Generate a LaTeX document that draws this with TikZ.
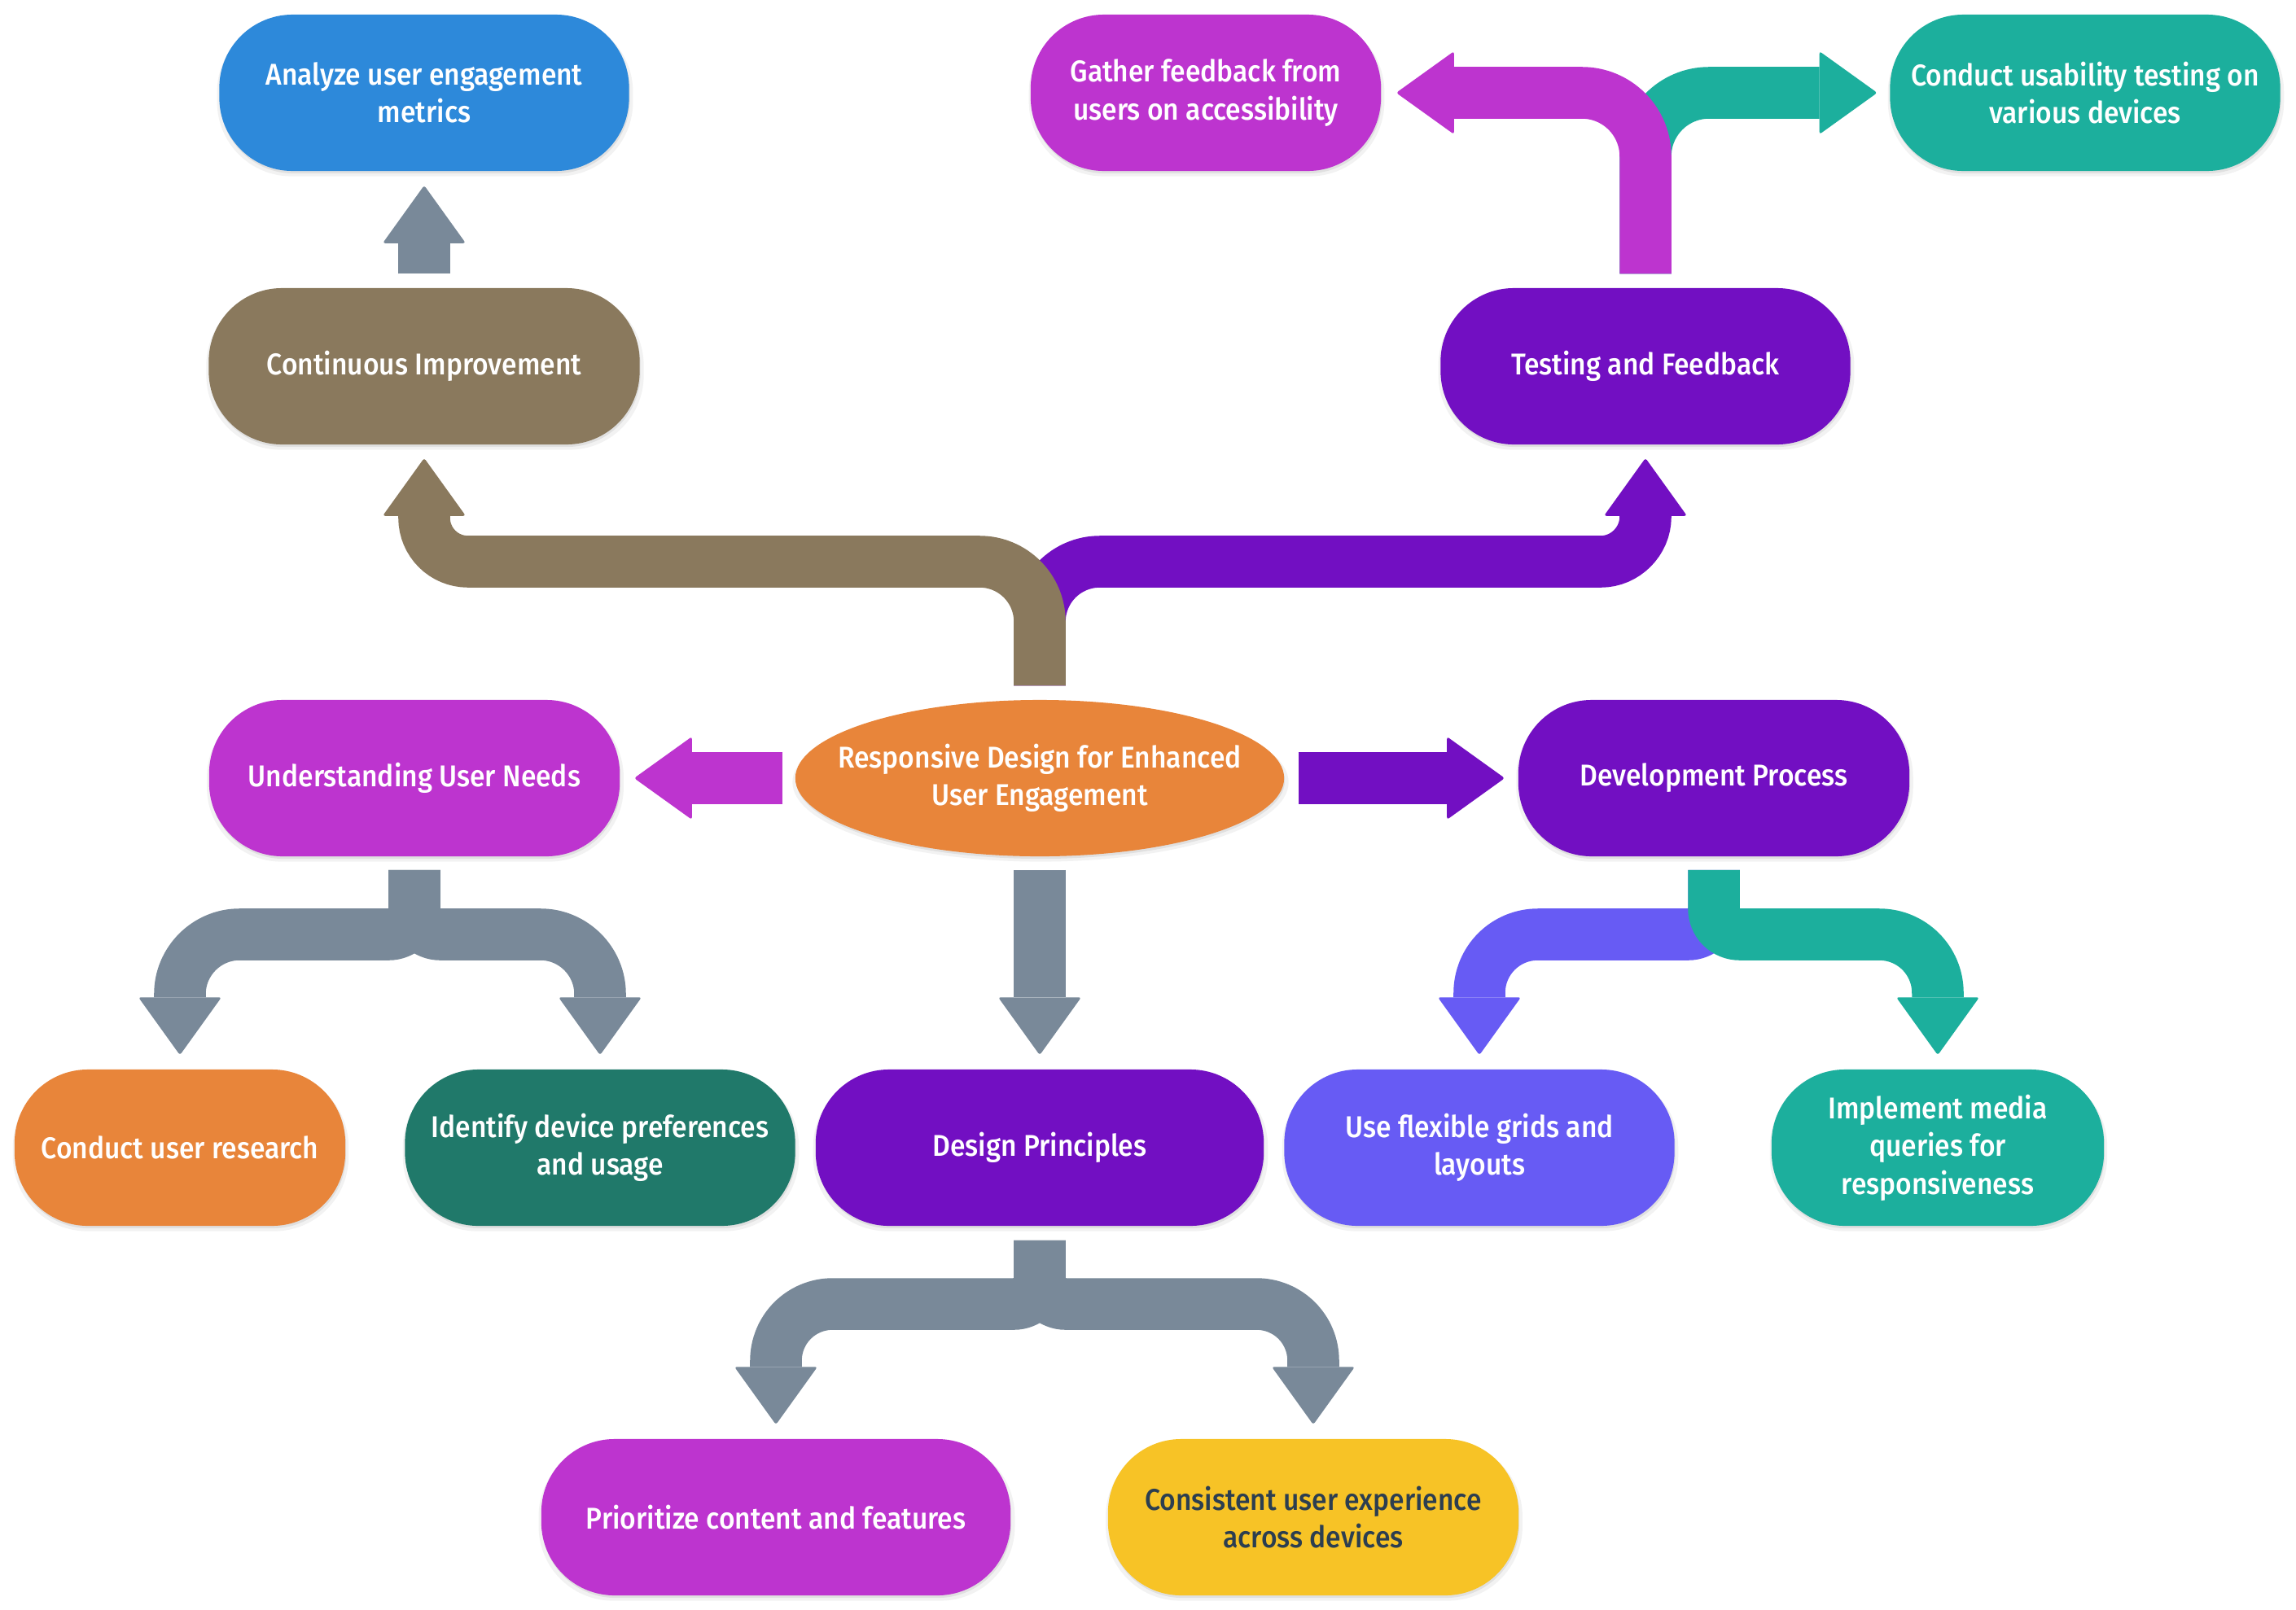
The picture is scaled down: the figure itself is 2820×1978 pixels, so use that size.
\documentclass[tikz,border=0pt]{standalone}
\usepackage{fontspec}
\IfFontExistsTF{Fira Sans Medium}{\setmainfont{Fira Sans Medium}[FakeStretch=0.91]}{\setmainfont{Fira Sans}[FakeStretch=0.92, FakeBold=0.6]}
\usetikzlibrary{shapes.geometric,calc,shadows}
\definecolor{cbrown}{HTML}{8A795D}
\definecolor{cpurple}{HTML}{720FC2}
\definecolor{cmag}{HTML}{BD34CF}
\definecolor{cteal}{HTML}{1CAF9D}
\definecolor{cgray}{HTML}{798999}
\definecolor{cblue}{HTML}{2D89DA}
\definecolor{corange}{HTML}{E8853A}
\definecolor{cgreen}{HTML}{20796A}
\definecolor{cviolet}{HTML}{675BF4}
\definecolor{cyellow}{HTML}{F7C326}
\definecolor{ctext}{HTML}{2C3E50}
\newcommand{\ArrHead}[3]{\fill[#1, rounded corners=0.03cm] (#2) -- ($(#2)+({#3}:71)+({#3+90}:51)$) -- ($(#2)+({#3}:71)+({#3-90}:51)$) -- cycle;}
\tikzset{
  soft/.style={
    general shadow={shadow xshift=0.01cm, shadow yshift=-0.05cm, shadow scale=1.015, opacity=0.05, fill=black},
    general shadow={shadow xshift=0.01cm, shadow yshift=-0.03cm, opacity=0.07, fill=black}},
  nbox/.style={rectangle, rounded corners=0.9cm, minimum height=1.92cm, inner sep=0pt,
    align=center, text=white, font=\fontsize{10.5}{13.2}\selectfont, soft},
  band/.style={line width=0.635cm},
}
\begin{document}
\begin{tikzpicture}[x=0.01cm, y=-0.01cm]
\fill[white] (0,0) rectangle (2820,1978);
\useasboundingbox (0,0) rectangle (2820,1978);

% nodes
\node[nbox, fill=cblue, minimum width=5.03cm] (aum) at (521,114) {Analyze user engagement\\metrics};
\node[nbox, fill=cbrown, minimum width=5.29cm] (ci) at (521,450) {Continuous Improvement};
\node[nbox, fill=cmag, minimum width=4.30cm] (gf) at (1481,114) {Gather feedback from\\users on accessibility};
\node[nbox, fill=cteal, minimum width=4.79cm] (cut) at (2561,114) {Conduct usability testing on\\various devices};
\node[nbox, fill=cpurple, minimum width=5.03cm] (tf) at (2021,450) {Testing and Feedback};
\node[nbox, fill=cmag, minimum width=5.04cm] (un) at (509,956) {Understanding User Needs};
\node[ellipse, fill=corange, minimum width=6cm, minimum height=1.92cm, inner xsep=-1cm, inner ysep=0pt,
  align=center, text=white, font=\fontsize{10.5}{13.2}\selectfont, soft] (root) at (1277,956)
  {Responsive Design for Enhanced\\User Engagement};
\node[nbox, fill=cpurple, minimum width=4.80cm] (dp) at (2105,956) {Development Process};
\node[nbox, fill=corange, minimum width=4.06cm] (cur) at (221,1410) {Conduct user research};
\node[nbox, fill=cgreen, minimum width=4.79cm] (idp) at (737,1410) {Identify device preferences\\and usage};
\node[nbox, fill=cpurple, minimum width=5.50cm] (dsp) at (1277,1410) {Design Principles};
\node[nbox, fill=cviolet, minimum width=4.79cm] (ufg) at (1817,1410) {Use flexible grids and\\layouts};
\node[nbox, fill=cteal, minimum width=4.08cm] (imq) at (2380,1410) {Implement media\\queries for\\responsiveness};
\node[nbox, fill=cmag, minimum width=5.76cm] (pcf) at (953,1864) {Prioritize content and features};
\node[nbox, fill=cyellow, text=ctext, minimum width=5.04cm] (cux) at (1613,1864) {Consistent user experience\\across devices};

% connector end points
\coordinate (rs) at ($(root.north)+(0,-17)$);
\coordinate (ciT) at ($(ci.south)+(0,16)$);
\coordinate (tfT) at ($(tf.south)+(0,16)$);
\coordinate (ts) at ($(tf.north)+(0,-17)$);
\coordinate (gfT) at ($(gf.east)+(18,0)$);
\coordinate (cutT) at ($(cut.west)+(-15,0)$);
\coordinate (cis) at ($(ci.north)+(0,-17)$);
\coordinate (aumT) at ($(aum.south)+(0,17)$);
\coordinate (rw) at ($(root.west)+(-15,0)$);
\coordinate (unT) at ($(un.east)+(17,0)$);
\coordinate (re) at ($(root.east)+(17,0)$);
\coordinate (dpT) at ($(dp.west)+(-16,0)$);
\coordinate (rsb) at ($(root.south)+(0,16)$);
\coordinate (dspT) at ($(dsp.north)+(0,-17)$);
\coordinate (us) at ($(un.south)+(0,16)$);
\coordinate (curT) at ($(cur.north)+(0,-17)$);
\coordinate (idpT) at ($(idp.north)+(0,-17)$);
\coordinate (ds) at ($(dsp.south)+(0,17)$);
\coordinate (pcfT) at ($(pcf.north)+(0,-17)$);
\coordinate (cuxT) at ($(cux.north)+(0,-17)$);
\coordinate (dps) at ($(dp.south)+(0,16)$);
\coordinate (ufgT) at ($(ufg.north)+(0,-17)$);
\coordinate (imqT) at ($(imq.north)+(0,-17)$);

% root -> testing and feedback (purple), root -> continuous improvement (brown)
\draw[band, cpurple] (rs) -- (1277,764) .. controls +(0,-41) and +(-41,0) .. (1351,690)
  -- (1966,690) .. controls +(30,0) and +(0,30) .. (2021,635) -- ($(tfT)+(0,71)$);
\ArrHead{cpurple}{tfT}{90}
\draw[band, cbrown] (rs) -- (1277,764) .. controls +(0,-41) and +(41,0) .. (1203,690)
  -- (575,690) .. controls +(-30,0) and +(0,30) .. (521,636) -- ($(ciT)+(0,71)$);
\ArrHead{cbrown}{ciT}{90}

% testing and feedback -> two children
\draw[band, cteal] (ts) -- (2021,192) .. controls +(0,-43) and +(-43,0) .. (2099,114) -- ($(cutT)+(-71,0)$);
\ArrHead{cteal}{cutT}{180}
\draw[band, cmag] (ts) -- (2021,192) .. controls +(0,-43) and +(43,0) .. (1943,114) -- ($(gfT)+(71,0)$);
\ArrHead{cmag}{gfT}{0}

% continuous improvement -> analyze
\draw[band, cgray] (cis) -- ($(aumT)+(0,71)$);
\ArrHead{cgray}{aumT}{90}

% root -> understanding, development, design
\draw[band, cmag] (rw) -- ($(unT)+(71,0)$);
\ArrHead{cmag}{unT}{0}
\draw[band, cpurple] (re) -- ($(dpT)+(-71,0)$);
\ArrHead{cpurple}{dpT}{180}
\draw[band, cgray] (rsb) -- ($(dspT)+(0,-71)$);
\ArrHead{cgray}{dspT}{270}

% understanding -> children
\draw[band, cgray] (us) -- (509,1116) .. controls +(0,18) and +(18,0) .. (477,1148)
  -- (294,1148) .. controls +(-40,0) and +(0,-40) .. (221,1221) -- ($(curT)+(0,-71)$);
\ArrHead{cgray}{curT}{270}
\draw[band, cgray] (us) -- (509,1116) .. controls +(0,18) and +(-18,0) .. (541,1148)
  -- (664,1148) .. controls +(40,0) and +(0,-40) .. (737,1221) -- ($(idpT)+(0,-71)$);
\ArrHead{cgray}{idpT}{270}

% design principles -> children
\draw[band, cgray] (ds) -- (1277,1570) .. controls +(0,18) and +(18,0) .. (1245,1602)
  -- (1023,1602) .. controls +(-39,0) and +(0,-39) .. (953,1672) -- ($(pcfT)+(0,-71)$);
\ArrHead{cgray}{pcfT}{270}
\draw[band, cgray] (ds) -- (1277,1570) .. controls +(0,18) and +(-18,0) .. (1309,1602)
  -- (1543,1602) .. controls +(39,0) and +(0,-39) .. (1613,1672) -- ($(cuxT)+(0,-71)$);
\ArrHead{cgray}{cuxT}{270}

% development process -> children
\draw[band, cviolet] (dps) -- (2105,1116) .. controls +(0,18) and +(18,0) .. (2073,1148)
  -- (1889,1148) .. controls +(-40,0) and +(0,-40) .. (1817,1220) -- ($(ufgT)+(0,-71)$);
\ArrHead{cviolet}{ufgT}{270}
\draw[band, cteal] (dps) -- (2105,1116) .. controls +(0,18) and +(-18,0) .. (2137,1148)
  -- (2308,1148) .. controls +(40,0) and +(0,-40) .. (2380,1220) -- ($(imqT)+(0,-71)$);
\ArrHead{cteal}{imqT}{270}
\end{tikzpicture}
\end{document}
